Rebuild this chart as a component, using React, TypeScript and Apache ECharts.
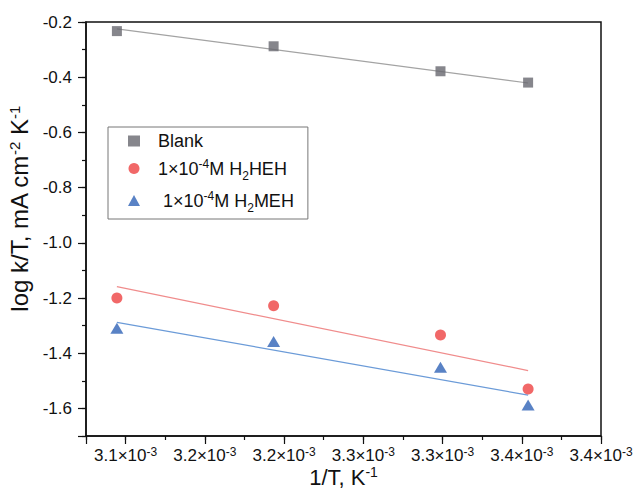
import React, { useEffect, useRef } from "react";
import * as echarts from "echarts";

// 1/T in units of 1e-3 K^-1
const xInv = [3.0945, 3.1934, 3.2987, 3.354];
const blank = [-0.233, -0.288, -0.3785, -0.4195];
const heh = [-1.2, -1.228, -1.334, -1.53];
const meh = [-1.31, -1.358, -1.451, -1.588];

// linear-fit lines (end points)
const fitX = [3.0945, 3.354];
const blankFit = [-0.225, -0.421];
const hehFit = [-1.159, -1.463];
const mehFit = [-1.288, -1.552];

const seriesNames = ["Blank", "1×10⁻⁴M H₂HEH", "1×10⁻⁴M H₂MEH"];
const legendRich = [
  "{a|Blank}",
  "{a|1×10}{s|-4}{a|M H}{b|2}{a|HEH}",
  "{a| 1×10}{s|-4}{a|M H}{b|2}{a|MEH}",
];

const xTickValues = [3.1, 3.15, 3.2, 3.25, 3.3, 3.35, 3.4];
const xTickLabels = ["3.1", "3.2", "3.2", "3.3", "3.3", "3.4", "3.4"];
const yTickValues = [-0.2, -0.4, -0.6, -0.8, -1.0, -1.2, -1.4, -1.6];
const yTickLabels = ["-0.2", "-0.4", "-0.6", "-0.8", "-1.0", "-1.2", "-1.4", "-1.6"];

const X_MIN = 3.075;
const X_MAX = 3.4;
const Y_MIN = -1.7;
const Y_MAX = -0.2;

const FONT = "'Liberation Sans', Arial, sans-serif";
const GRAY = "#68686f";
const RED = "#ee4242";
const BLUE = "#2f63b6";

const pairs = (xs: number[], ys: number[]) => xs.map((x, i) => [x, ys[i]]);

export default function App() {
  const ref = useRef<HTMLDivElement>(null);
  useEffect(() => {
    if (!ref.current) return;
    const chart = echarts.init(ref.current, null, { renderer: "svg" });
    const grid = { left: 86, right: 34, top: 22, bottom: 52 };
    chart.setOption({
      animation: false,
      backgroundColor: "#fff",
      grid: [
        { ...grid, show: true, borderColor: "#111", borderWidth: 1.5, outerBoundsMode: "none" },
        { ...grid, show: false, outerBoundsMode: "none" },
      ],
      legend: {
        left: 108,
        top: 127,
        orient: "vertical",
        data: [
          { name: seriesNames[0], icon: "rect", itemStyle: { color: GRAY } },
          { name: seriesNames[1], icon: "circle", itemStyle: { color: RED } },
          { name: seriesNames[2], icon: "triangle", itemStyle: { color: BLUE } },
        ],
        itemWidth: 12,
        itemHeight: 11,
        itemGap: 5,
        padding: [5, 14, 5, 20],
        borderColor: "#777",
        borderWidth: 1,
        borderRadius: 0,
        backgroundColor: "#fff",
        formatter: (name: string) => legendRich[seriesNames.indexOf(name)],
        textStyle: {
          fontSize: 18,
          fontFamily: FONT,
          color: "#111",
          padding: [0, 0, 0, 13],
          rich: {
            a: { fontSize: 18, fontFamily: FONT, color: "#111", lineHeight: 22 },
            s: { fontSize: 12, fontFamily: FONT, color: "#111", lineHeight: 14, padding: [0, 0, 10, 0] },
            b: { fontSize: 12, fontFamily: FONT, color: "#111", lineHeight: 14, padding: [15, 0, 0, 0] },
          },
        },
      },
      xAxis: [
        {
          type: "value",
          gridIndex: 0,
          min: X_MIN,
          max: X_MAX,
          interval: 0.025,
          name: "{a|1/T, K}{s|-1}",
          nameLocation: "middle",
          nameGap: 29,
          nameTextStyle: {
            fontSize: 22,
            fontFamily: FONT,
            color: "#111",
            rich: {
              a: { fontSize: 22, fontFamily: FONT, color: "#111" },
              s: { fontSize: 14, fontFamily: FONT, color: "#111", padding: [0, 0, 10, 0] },
            },
          },
          axisLine: { show: true, lineStyle: { color: "#111", width: 1.5 } },
          axisTick: { show: true, inside: false, length: 4, lineStyle: { color: "#111", width: 1.2 } },
          splitLine: { show: false },
          axisLabel: { show: false },
        },
        {
          // mirrored axis: its ticks fall on the major positions
          type: "value",
          gridIndex: 1,
          inverse: true,
          min: X_MIN,
          max: X_MAX,
          interval: 0.05,
          axisLine: { show: false },
          axisTick: { show: true, inside: false, length: 8, lineStyle: { color: "#111", width: 1.2 } },
          splitLine: { show: false },
          axisLabel: { show: false },
        },
      ],
      yAxis: [
        {
          type: "value",
          gridIndex: 0,
          min: Y_MIN,
          max: Y_MAX,
          interval: 0.1,
          name: "{a|log k/T, mA cm}{s|-2}{a| K}{s|-1}",
          nameLocation: "middle",
          nameGap: 46,
          nameRotate: 90,
          nameTextStyle: {
            fontSize: 24,
            fontFamily: FONT,
            color: "#111",
            padding: [0, 0, 0, 40],
            rich: {
              a: { fontSize: 24, fontFamily: FONT, color: "#111" },
              s: { fontSize: 15, fontFamily: FONT, color: "#111", padding: [0, 0, 10, 0] },
            },
          },
          axisLine: { show: true, lineStyle: { color: "#111", width: 1.5 } },
          axisTick: { show: true, inside: false, length: 4, lineStyle: { color: "#111", width: 1.2 } },
          splitLine: { show: false },
          axisLabel: {
            margin: 14,
            fontSize: 17,
            fontFamily: FONT,
            color: "#111",
            hideOverlap: false,
            formatter: (v: number) => {
              const i = yTickValues.findIndex((t) => Math.abs(t - v) < 1e-6);
              return i < 0 ? "" : yTickLabels[i];
            },
          },
        },
        {
          type: "value",
          gridIndex: 1,
          inverse: true,
          min: Y_MIN,
          max: Y_MAX,
          interval: 0.2,
          axisLine: { show: false },
          axisTick: { show: true, inside: false, length: 8, lineStyle: { color: "#111", width: 1.2 } },
          axisLabel: { show: false },
          splitLine: { show: false },
        },
      ],
      series: [
        {
          name: "xTickLabels",
          type: "scatter",
          data: xTickValues.map((v) => [v, Y_MIN]),
          symbol: "circle",
          symbolSize: 1,
          itemStyle: { color: "rgba(0,0,0,0)" },
          silent: true,
          clip: false,
          label: {
            show: true,
            position: "bottom",
            distance: 9,
            color: "#111",
            opacity: 1,
            formatter: (p: any) => `{a|${xTickLabels[p.dataIndex]}×10}{s|-3}`,
            rich: {
              a: { fontSize: 17, fontFamily: FONT, color: "#111" },
              s: { fontSize: 12, fontFamily: FONT, color: "#111", padding: [0, 0, 8, 0] },
            },
          },
          labelLayout: { hideOverlap: false },
          z: 5,
        },
        {
          name: "blankFit",
          type: "line",
          data: pairs(fitX, blankFit),
          symbol: "none",
          lineStyle: { color: "#a3a3a3", width: 1.2 },
          z: 1,
        },
        {
          name: "hehFit",
          type: "line",
          data: pairs(fitX, hehFit),
          symbol: "none",
          lineStyle: { color: "#f08c8c", width: 1.2 },
          z: 1,
        },
        {
          name: "mehFit",
          type: "line",
          data: pairs(fitX, mehFit),
          symbol: "none",
          lineStyle: { color: "#6b9bd8", width: 1.2 },
          z: 1,
        },
        {
          name: seriesNames[0],
          type: "scatter",
          data: pairs(xInv, blank),
          symbol: "rect",
          symbolSize: 10,
          itemStyle: { color: GRAY },
          z: 3,
        },
        {
          name: seriesNames[1],
          type: "scatter",
          data: pairs(xInv, heh),
          symbol: "circle",
          symbolSize: 11,
          itemStyle: { color: RED },
          z: 3,
        },
        {
          name: seriesNames[2],
          type: "scatter",
          data: pairs(xInv, meh),
          symbol: "triangle",
          symbolSize: [13, 11],
          itemStyle: { color: BLUE },
          z: 3,
        },
      ],
    });
    return () => chart.dispose();
  }, []);
  return (
    <div
      ref={ref}
      style={{ position: "absolute", left: 0, top: 0, width: 635, height: 488 }}
    />
  );
}
